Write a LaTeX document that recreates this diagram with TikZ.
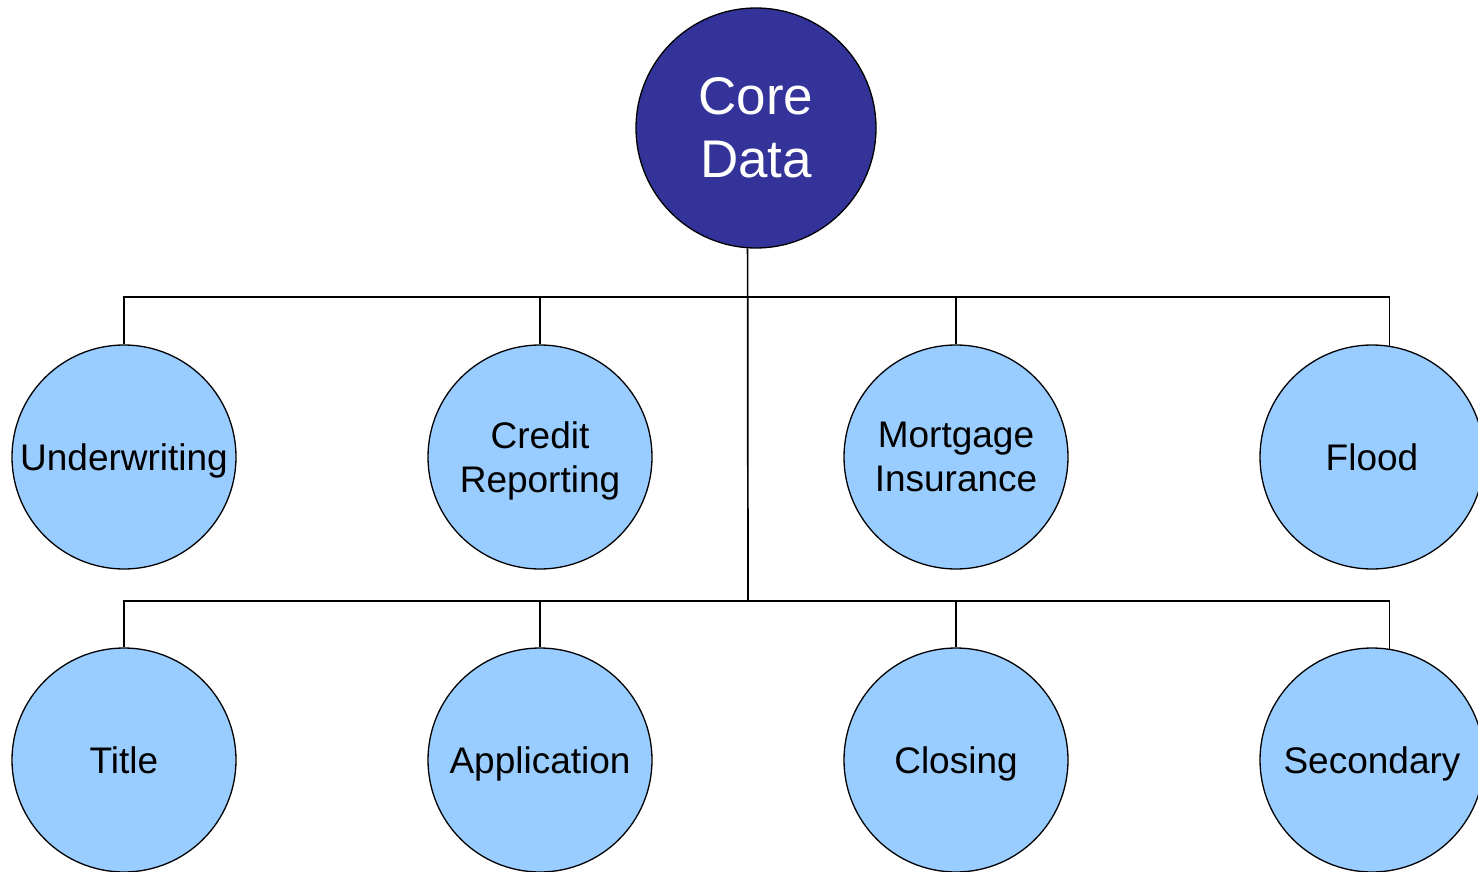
\documentclass[tikz,border=0pt]{standalone}
\usepackage{fontspec}
\setmainfont{Liberation Sans}
\definecolor{coreblue}{HTML}{333399}
\definecolor{leafblue}{HTML}{99CCFF}
\begin{document}
\begin{tikzpicture}[x=1pt,y=-1pt,
  conn/.style={draw=black,line width=1.7pt},
  corenode/.style={circle,draw=black,line width=1.3pt,fill=coreblue,minimum size=240pt,inner sep=0pt,
    text=white,align=center,font=\fontsize{53}{63}\selectfont},
  leaf/.style={circle,draw=black,line width=1.3pt,fill=leafblue,minimum size=224pt,inner sep=0pt,
    text=black,align=center,text depth=0pt,font=\fontsize{37}{44}\selectfont}]
\useasboundingbox (0,0) rectangle (1478,872);
\clip (0,0) rectangle (1478,872);
\node[corenode] (core) at (756,128) {Core\\Data};
\node[leaf] (uw) at (124,457) {Underwriting};
\node[leaf] (cr) at (540,457) {Credit\\Reporting};
\node[leaf] (mi) at (956,457) {Mortgage\\Insurance};
\node[leaf] (fl) at (1372,457) {Flood};
\node[leaf] (ti) at (124,760) {Title};
\node[leaf] (ap) at (540,760) {Application};
\node[leaf] (cl) at (956,760) {Closing};
\node[leaf] (se) at (1372,760) {Secondary};
\coordinate (j1) at (748,297);
\coordinate (j2) at (748,601);
\draw[conn] (core.-94) -- (j2);
\draw[conn] (uw.north) |- (j1) -| (fl.81.8);
\draw[conn] (cr.north) -- (cr.north |- j1);
\draw[conn] (mi.north) -- (mi.north |- j1);
\draw[conn] (ti.north) |- (j2) -| (se.81.8);
\draw[conn] (ap.north) -- (ap.north |- j2);
\draw[conn] (cl.north) -- (cl.north |- j2);
\end{tikzpicture}
\end{document}
